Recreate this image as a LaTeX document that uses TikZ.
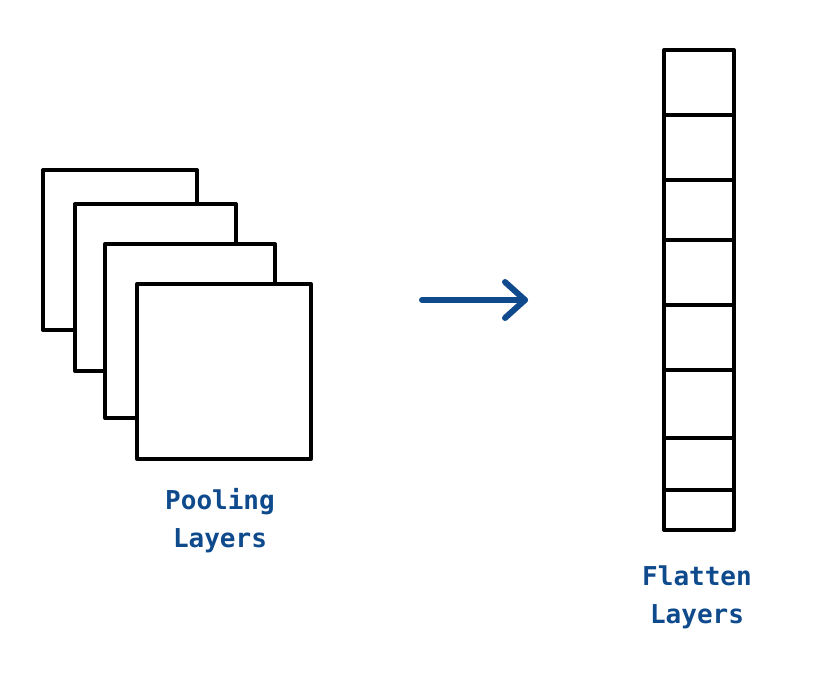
\documentclass[tikz,border=0pt]{standalone}
\usepackage{fontspec}
\setmonofont{DejaVu Sans Mono}
\definecolor{lblue}{HTML}{0E4A8C}
\begin{document}
\begin{tikzpicture}[x=1pt,y=-1pt,
  sq/.style={draw=black,fill=white,line width=4pt,line join=round},
  lab/.style={text=lblue,font=\fontsize{26}{38}\selectfont\ttfamily\bfseries,align=center}]
\useasboundingbox (0,0) rectangle (820,686);
\draw[sq] (43,170) rectangle (197,330);
\draw[sq] (75,204) rectangle (236,371);
\draw[sq] (105,244) rectangle (275,418);
\draw[sq] (137,284) rectangle (311,459);
\node[lab] (pool) at (220,521) {Pooling\\Layers};
\draw[sq] (664,50) rectangle (734,530);
\foreach \y in {115,180,240,305,370,438,490} \draw[line width=4pt] (664,\y) -- (734,\y);
\node[lab] (flat) at (697,597) {Flatten\\Layers};
\coordinate (a1) at (422,300);
\coordinate (a2) at (525,300);
\draw[lblue,line width=6pt,line cap=round] (a1) -- (a2);
\draw[lblue,line width=6pt,line cap=round,line join=round] (505,282) -- (525,300) -- (505,318);
\end{tikzpicture}
\end{document}
